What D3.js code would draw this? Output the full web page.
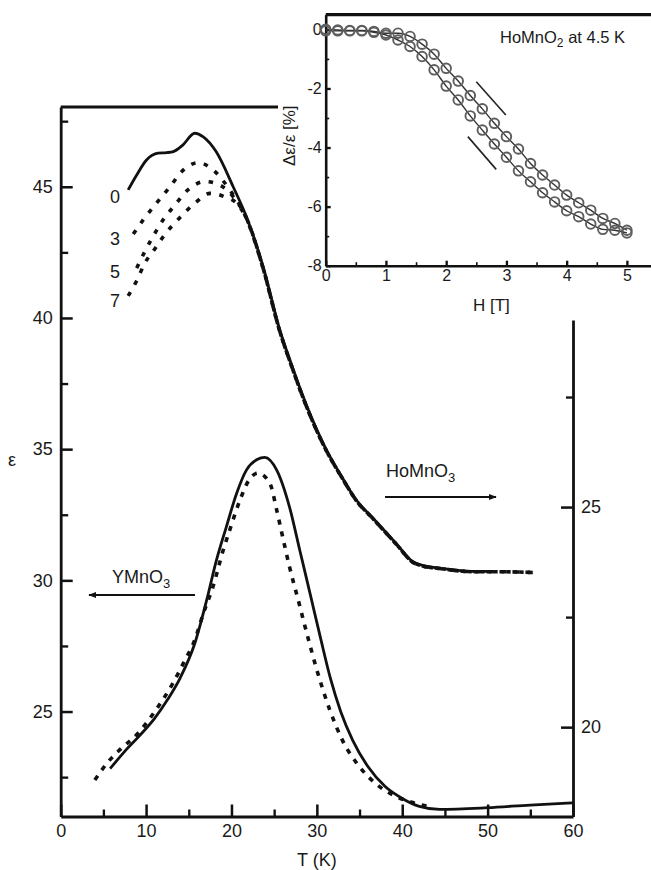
<!DOCTYPE html>
<html><head><meta charset="utf-8">
<script src="https://cdn.jsdelivr.net/npm/d3@7"></script>
<style>
body{margin:0;background:#fff}
text{font-family:"Liberation Sans",Arial,Helvetica,sans-serif;fill:#1a1a1a}
</style></head><body>
<script>
// ---- main panel data: [T (K), value] ----
// HoMnO3, left axis, field 0 T (solid)
const hoField0 = [[7.9,44.88],[8.9,45.45],[10.05,46.02],[11.4,46.28],[12.4,46.3],[13.2,46.34],[14.3,46.59],[15.7,47.04],[16.7,46.9],[18.2,46.34],[20.2,45.0],[21.75,43.86],[23.7,41.96],[25.65,39.55],[27,38.25],[29,36.5],[31.1,34.98],[33,33.9],[34.6,33.07],[36.6,32.36],[39.3,31.4],[41.2,30.72],[42.6,30.55],[44.4,30.47],[48.3,30.34],[51,30.34]];
// field 3, 5, 7 T (dotted), low-T part
const hoField3 = [[8.5,43.2],[9.85,43.82],[11.2,44.37],[12.8,45.0],[14.15,45.57],[16.1,45.92],[17.85,45.64],[19.8,44.88]];
const hoField5 = [[8.9,41.9],[9.85,42.53],[10.8,43.1],[12.0,43.74],[13.4,44.31],[14.9,44.88],[16.9,45.2],[18.6,45.07],[20.2,44.62]];
const hoField7 = [[7.9,40.84],[8.9,41.42],[9.85,42.09],[11.0,42.62],[12.3,43.23],[13.95,43.82],[15.7,44.37],[17.5,44.75],[19.2,44.62],[20.6,44.37]];
// common high-T part of the dotted curves
const hoTail = [[21.75,43.8],[23.7,41.9],[25.65,39.5],[27,38.2],[29,36.45],[31.1,34.95],[33,33.88],[34.6,33.05],[36.6,32.34],[39.3,31.38],[41.2,30.7],[42.6,30.53],[44.4,30.45],[48.3,30.33],[51,30.33],[55.3,30.3]];
const fieldLabels = [{t:"0", v:44.6}, {t:"3", v:43.0}, {t:"5", v:41.75}, {t:"7", v:40.65}];

// YMnO3, right axis
const yField0 = [[5.8,19.06],[7.5,19.45],[9.3,19.82],[11,20.2],[12.5,20.62],[14,21.12],[15.7,21.9],[17.1,22.89],[18.25,23.8],[19.4,24.55],[20.6,25.31],[21.75,25.84],[23.0,26.08],[23.9,26.13],[25.3,25.84],[26.8,25.0],[28.0,24.02],[29.2,23.04],[30.4,22.05],[31.6,21.1],[32.8,20.35],[34.2,19.7],[36,19.1],[38,18.65],[40,18.38],[42,18.2],[44.4,18.13],[50,18.17],[55,18.23],[60,18.28]];
const yFieldH = [[4.0,18.8],[5.5,19.2],[7,19.5],[9,19.85],[11,20.35],[13,20.95],[14.5,21.5],[15.7,21.98],[16.7,22.58],[17.85,23.2],[19.0,24.0],[19.8,24.48],[21.0,25.16],[22.0,25.6],[23.1,25.77],[24.5,25.54],[25.3,24.93],[26.0,24.32],[26.8,23.64],[27.8,22.9],[28.8,22.15],[30,21.3],[31.5,20.4],[33,19.7],[35,19.1],[37,18.7],[39,18.45],[41,18.3],[43,18.2]];

const xMajor = [0,10,20,30,40,50,60];
const xMinor = [5,15,25,35,45,55];
const yLMajor = [25,30,35,40,45];
const yLMinor = [22.5,27.5,32.5,37.5,42.5,47.5];
const yRMajor = [20,25];
const yRMinor = [22.5,27.5];

// ---- inset data: H (T), delta eps / eps (%) ----
const insetH = [0,0.2,0.4,0.6,0.8,1.0,1.2,1.4,1.6,1.8,2.0,2.2,2.4,2.6,2.8,3.0,3.2,3.4,3.6,3.8,4.0,4.2,4.4,4.6,4.8,5.0];
const insetUp = [0,-0.02,-0.04,-0.04,-0.07,-0.13,-0.13,-0.24,-0.5,-0.84,-1.32,-1.75,-2.24,-2.69,-3.18,-3.63,-4.05,-4.54,-4.93,-5.27,-5.61,-5.87,-6.12,-6.4,-6.57,-6.8];
const insetDown = [-0.05,-0.05,-0.05,-0.05,-0.1,-0.19,-0.36,-0.58,-0.92,-1.37,-1.92,-2.39,-2.93,-3.41,-3.88,-4.33,-4.79,-5.16,-5.53,-5.84,-6.14,-6.34,-6.59,-6.77,-6.8,-6.89];
const insetMarks = [[[2.5,-1.77],[2.99,-2.9]], [[2.36,-3.63],[2.83,-4.74]]];
const insetXTicks = [0,1,2,3,4,5];
const insetXMinor = [0.5,1.5,2.5,3.5,4.5];
const insetYTicks = [0,-2,-4,-6,-8];
const insetYMinor = [-1,-3,-5,-7];

const W = 651, H = 870;
const svg = d3.select("body").append("svg").attr("width", W).attr("height", H);

const x = d3.scaleLinear().domain([0, 60]).range([60.7, 573]);
const yL = d3.scaleLinear().domain([21, 48.04]).range([816.5, 107]);
const yR = d3.scaleLinear().domain([17.97, 29.25]).range([816.5, 320]);

function styleAxis(g, fs, lw) {
  g.attr("font-family", null).attr("font-size", fs);
  g.select(".domain").attr("stroke", "#111").attr("stroke-width", lw);
  g.selectAll(".tick line").attr("stroke", "#111").attr("stroke-width", lw * 0.9);
  g.selectAll(".tick text").attr("fill", "#1a1a1a");
}
const plain = d => String(d).replace("\u2212", "-");

// minor ticks first, major axes on top
svg.append("g").attr("transform", "translate(0,816.5)")
  .call(d3.axisBottom(x).tickValues(xMinor).tickSize(-7).tickFormat(""))
  .call(g => { g.select(".domain").remove(); styleAxis(g, 18, 2.6); });
svg.append("g").attr("transform", "translate(60.7,0)")
  .call(d3.axisLeft(yL).tickValues(yLMinor).tickSize(-7.5).tickFormat(""))
  .call(g => { g.select(".domain").remove(); styleAxis(g, 18, 2.6); });
svg.append("g").attr("transform", "translate(573,0)")
  .call(d3.axisRight(yR).tickValues(yRMinor).tickSize(-7).tickFormat(""))
  .call(g => { g.select(".domain").remove(); styleAxis(g, 18, 2.6); });

svg.append("g").attr("transform", "translate(0,816.5)")
  .call(d3.axisBottom(x).tickValues(xMajor).tickFormat(plain).tickSizeInner(-12).tickSizeOuter(0).tickPadding(8))
  .call(g => styleAxis(g, 18, 2.8));
svg.append("g").attr("transform", "translate(60.7,0)")
  .call(d3.axisLeft(yL).tickValues(yLMajor).tickFormat(plain).tickSizeInner(-12).tickSizeOuter(0).tickPadding(8))
  .call(g => styleAxis(g, 18, 2.8));
svg.append("g").attr("transform", "translate(573,0)")
  .call(d3.axisRight(yR).tickValues(yRMajor).tickFormat(plain).tickSizeInner(-12).tickSizeOuter(0).tickPadding(8))
  .call(g => styleAxis(g, 18, 2.8));

// top frame of main panel (left part, rest hidden by inset)
svg.append("line").attr("x1", x(0)).attr("x2", 278).attr("y1", yL(48.04)).attr("y2", yL(48.04))
  .attr("stroke", "#111").attr("stroke-width", 3);

svg.append("text").attr("x", x(30)).attr("y", 866).attr("text-anchor", "middle")
  .attr("font-size", 18).text("T (K)");
svg.append("text").attr("x", 12).attr("y", 466).attr("text-anchor", "middle")
  .attr("font-size", 18).text("ε");

// curves
const lineL = d3.line().x(d => x(d[0])).y(d => yL(d[1])).curve(d3.curveMonotoneX);
const lineR = d3.line().x(d => x(d[0])).y(d => yR(d[1])).curve(d3.curveMonotoneX);

[hoField3, hoField5, hoField7].forEach(arr => {
  svg.append("path").datum(arr.concat(hoTail)).attr("d", lineL)
    .attr("fill", "none").attr("stroke", "#111").attr("stroke-width", 3.6)
    .attr("stroke-dasharray", "4.5 8.5");
});
svg.append("path").datum(hoField0).attr("d", lineL)
  .attr("fill", "none").attr("stroke", "#111").attr("stroke-width", 2.8);

svg.append("path").datum(yFieldH).attr("d", lineR)
  .attr("fill", "none").attr("stroke", "#111").attr("stroke-width", 3.6)
  .attr("stroke-dasharray", "5 7");
svg.append("path").datum(yField0).attr("d", lineR)
  .attr("fill", "none").attr("stroke", "#111").attr("stroke-width", 2.8);

svg.selectAll(".flab").data(fieldLabels).join("text")
  .attr("x", 115).attr("y", d => yL(d.v) + 6).attr("text-anchor", "middle")
  .attr("font-size", 18).text(d => d.t);

// arrow labels
const defs = svg.append("defs");
defs.append("marker").attr("id", "ah").attr("viewBox", "0 0 10 10").attr("refX", 9).attr("refY", 5)
  .attr("markerWidth", 4.5).attr("markerHeight", 4.5).attr("orient", "auto")
  .append("path").attr("d", "M0,1 L10,5 L0,9 z").attr("fill", "#111");

const hoLab = svg.append("text").attr("x", 386).attr("y", 477).attr("font-size", 18);
hoLab.append("tspan").text("HoMnO");
hoLab.append("tspan").attr("dy", 5).attr("font-size", 13).text("3");
svg.append("line").attr("x1", 385).attr("x2", 496).attr("y1", 497).attr("y2", 497)
  .attr("stroke", "#111").attr("stroke-width", 1.8).attr("marker-end", "url(#ah)");

const yLab = svg.append("text").attr("x", 112).attr("y", 583).attr("font-size", 18);
yLab.append("tspan").text("YMnO");
yLab.append("tspan").attr("dy", 5).attr("font-size", 13).text("3");
svg.append("line").attr("x1", 195).attr("x2", 89).attr("y1", 595).attr("y2", 595)
  .attr("stroke", "#111").attr("stroke-width", 1.8).attr("marker-end", "url(#ah)");

// ---- inset ----
const ix = d3.scaleLinear().domain([0, 5.4]).range([325.7, 651]);
const iy = d3.scaleLinear().domain([-8, 0.5]).range([265.7, 14.6]);

svg.append("g").attr("transform", "translate(0,265.7)")
  .call(d3.axisBottom(ix).tickValues(insetXMinor).tickSize(-3.5).tickFormat(""))
  .call(g => { g.select(".domain").remove(); styleAxis(g, 16, 1.8); });
svg.append("g").attr("transform", "translate(325.7,0)")
  .call(d3.axisLeft(iy).tickValues(insetYMinor).tickSize(-3.5).tickFormat(""))
  .call(g => { g.select(".domain").remove(); styleAxis(g, 16, 1.8); });
svg.append("g").attr("transform", "translate(0,265.7)")
  .call(d3.axisBottom(ix).tickValues(insetXTicks).tickFormat(plain).tickSizeInner(-5).tickSizeOuter(0).tickPadding(4))
  .call(g => styleAxis(g, 16, 2.6));
svg.append("g").attr("transform", "translate(325.7,0)")
  .call(d3.axisLeft(iy).tickValues(insetYTicks).tickFormat(plain).tickSizeInner(-5).tickSizeOuter(0).tickPadding(4))
  .call(g => styleAxis(g, 16, 2.6));
svg.append("line").attr("x1", ix(0)).attr("x2", W).attr("y1", iy(0.5)).attr("y2", iy(0.5))
  .attr("stroke", "#111").attr("stroke-width", 3.2);

svg.append("text").attr("x", ix(2.75)).attr("y", 311).attr("text-anchor", "middle")
  .attr("font-size", 17).text("H [T]");
svg.append("text").attr("transform", "translate(295," + iy(-3.6) + ") rotate(-90)")
  .attr("text-anchor", "middle").attr("font-size", 17).text("Δε/ε [%]");
const tl = svg.append("text").attr("x", 500).attr("y", 43).attr("font-size", 16.5);
tl.append("tspan").text("HoMnO");
tl.append("tspan").attr("dy", 4).attr("font-size", 12).text("2");
tl.append("tspan").attr("dy", -4).text(" at 4.5 K");

const iline = d3.line().x((d, i) => ix(insetH[i])).y(d => iy(d)).curve(d3.curveMonotoneX);
[insetUp, insetDown].forEach(arr => {
  svg.append("path").datum(arr).attr("d", iline)
    .attr("fill", "none").attr("stroke", "#333").attr("stroke-width", 1.4);
  svg.append("g").selectAll("circle").data(arr).join("circle")
    .attr("cx", (d, i) => ix(insetH[i])).attr("cy", d => iy(d)).attr("r", 4.8)
    .attr("fill", "none").attr("stroke", "#5e5e5e").attr("stroke-width", 1.9);
});
insetMarks.forEach(m => {
  svg.append("line").attr("x1", ix(m[0][0])).attr("y1", iy(m[0][1]))
    .attr("x2", ix(m[1][0])).attr("y2", iy(m[1][1]))
    .attr("stroke", "#222").attr("stroke-width", 1.6);
});
</script>
</body></html>
